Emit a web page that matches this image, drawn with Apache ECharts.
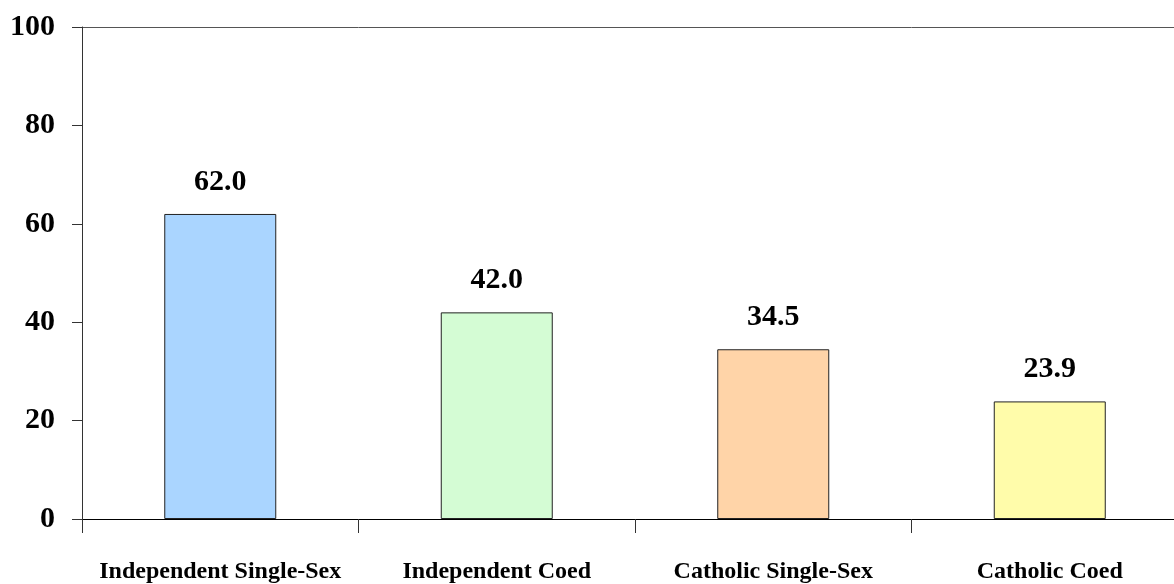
<!DOCTYPE html>
<html>
<head>
<meta charset="utf-8">
<script src="https://cdn.jsdelivr.net/npm/echarts@6/dist/echarts.min.js"></script>
<style>
html,body{margin:0;padding:0;background:#fff;overflow:hidden;width:1174px;height:584px;}
#chart{width:1188px;height:584px;}
</style>
</head>
<body>
<div id="chart"></div>
<script>
var categories = ["Independent Single-Sex", "Independent Coed", "Catholic Single-Sex", "Catholic Coed"];
var values = [62.0, 42.0, 34.5, 23.9];
var barColors = ["#AAD5FF", "#D4FCD4", "#FFD4A8", "#FFFCAA"];
var yTicks = [0, 20, 40, 60, 80, 100];

var chart = echarts.init(document.getElementById('chart'), null, {renderer: 'canvas'});
var serif = '"Liberation Serif", "Times New Roman", serif';
chart.setOption({
  backgroundColor: '#ffffff',
  animation: false,
  grid: {left: 82, right: 0, top: 27, bottom: 65, containLabel: false},
  xAxis: {
    type: 'category',
    data: categories,
    axisLine: {show: true, lineStyle: {color: '#000', width: 1}},
    axisTick: {show: true, interval: 0, length: 14, lineStyle: {color: '#333'}},
    axisLabel: {
      interval: 0,
      margin: 41,
      fontFamily: serif,
      fontWeight: 'bold',
      fontSize: 24,
      color: '#000'
    },
    splitLine: {show: false}
  },
  yAxis: {
    type: 'value',
    min: yTicks[0],
    max: yTicks[yTicks.length - 1],
    interval: 20,
    axisLine: {show: true, lineStyle: {color: '#333', width: 1}},
    axisTick: {show: true, inside: false, length: 10, lineStyle: {color: '#333'}},
    axisLabel: {
      margin: 27,
      fontFamily: serif,
      fontWeight: 'bold',
      fontSize: 30,
      color: '#000'
    },
    splitLine: {
      show: true,
      lineStyle: {color: ['transparent','transparent','transparent','transparent','transparent','#555'], width: 1}
    }
  },
  series: [{
    type: 'bar',
    data: values.map(function (v, i) {
      return {value: v, itemStyle: {color: barColors[i]}};
    }),
    barWidth: 112,
    itemStyle: {borderColor: '#222', borderWidth: 1},
    label: {
      show: true,
      position: 'top',
      distance: 17,
      fontFamily: serif,
      fontWeight: 'bold',
      fontSize: 30,
      color: '#000',
      formatter: function (p) { return p.value.toFixed(1); }
    }
  }]
});
</script>
</body>
</html>
